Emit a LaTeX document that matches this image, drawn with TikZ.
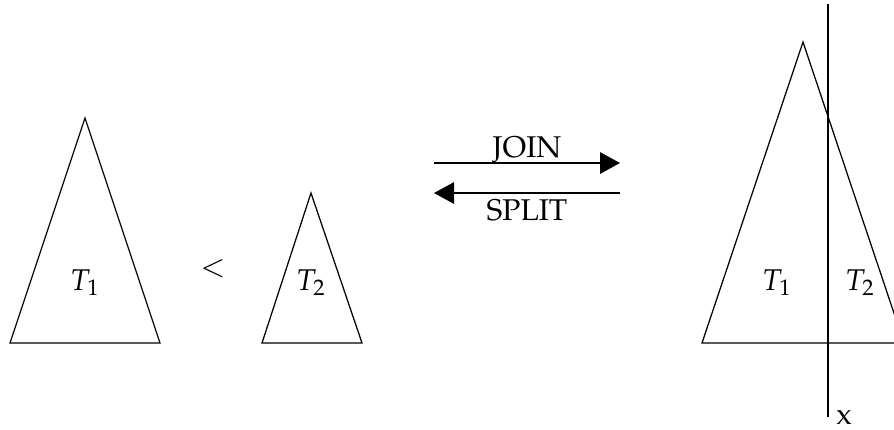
\documentclass[tikz,border=0pt]{standalone}
\usepackage[T1]{fontenc}
\usepackage{amsmath}
\usepackage{mathpazo}
\usetikzlibrary{
    arrows.meta,
    positioning,
    calc
}
\tikzset{
    % --- Tree outline (triangle) ---
    tree/.style = {
        draw, line width=0.5pt, line join=miter
    },
    % --- Tree name inside the triangle ---
    tree label/.style = {
        anchor=base, inner sep=0pt, font=\large
    },
    % --- Operation arrow (join / split) ---
    op arrow/.style = {
        -{Triangle[length=8pt, width=8.6pt]}, line width=0.5pt
    },
    % --- Operation name ---
    op label/.style = {
        anchor=base, inner sep=0pt, font=\large
    },
    % --- Split line at key x ---
    split line/.style = {
        draw, line width=0.5pt
    }
}

\begin{document}
\begin{tikzpicture}[x=0.4pt, y=-0.4pt]
\useasboundingbox (0,0) rectangle (894,429);

% ---------------------------------------------------------
% Left: two separate trees
% ---------------------------------------------------------
\coordinate (T1top) at (85,118);
\coordinate (T1bl)  at (10,343);
\coordinate (T1br)  at (160,343);
\draw[tree] (T1top) -- (T1br) -- (T1bl) -- cycle;
\node[tree label] (T1) at (85,290) {$T_1$};

\node[font=\large] (less) at (213,269) {$<$};

\coordinate (T2top) at (311,193);
\coordinate (T2bl)  at (262,343);
\coordinate (T2br)  at (362,343);
\draw[tree] (T2top) -- (T2br) -- (T2bl) -- cycle;
\node[tree label] (T2) at (311,290) {$T_2$};

% ---------------------------------------------------------
% Middle: join / split arrows
% ---------------------------------------------------------
\coordinate (joinL)  at (434,163);
\coordinate (joinR)  at (620,163);
\coordinate (splitL) at (434,193);
\coordinate (splitR) at (620,193);
\draw[op arrow] (joinL) -- (joinR);
\draw[op arrow] (splitR) -- (splitL);
\node[op label] (join)  at (527,157) {JOIN};
\node[op label] (split) at (527,220) {SPLIT};

% ---------------------------------------------------------
% Right: joined tree, cut at x
% ---------------------------------------------------------
\coordinate (Ttop) at (803,42);
\coordinate (Tbl)  at (702,343);
\coordinate (Tbr)  at (904,343);
\draw[tree] (Ttop) -- (Tbr) -- (Tbl) -- cycle;
\node[tree label] (R1) at (777,290) {$T_1$};
\node[tree label] (R2) at (860,290) {$T_2$};

\coordinate (cutTop) at (828,4);
\coordinate (cutBot) at (828,417);
\draw[split line] (cutTop) -- (cutBot);
\node[anchor=base, inner sep=0pt, font=\large] (key) at (844,424) {x};

\end{tikzpicture}
\end{document}
